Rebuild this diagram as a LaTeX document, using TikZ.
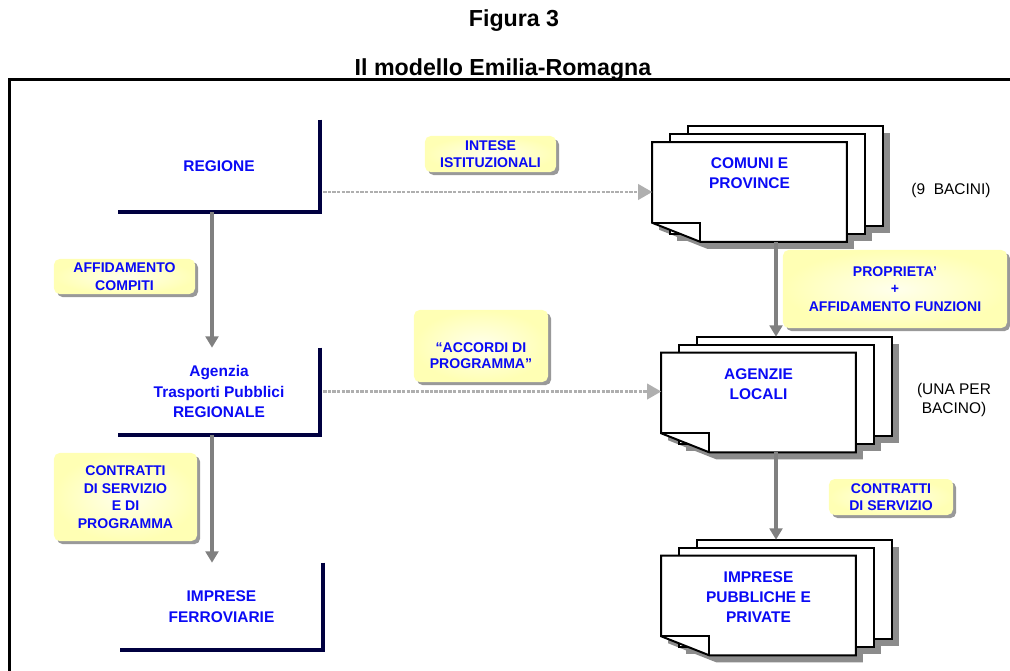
\documentclass[tikz,border=0pt]{standalone}
\usepackage{fontspec}
\setmainfont{Liberation Sans}
\usepackage[dvipsnames]{xcolor}
\usepackage{tikz}
\usetikzlibrary{arrows.meta,calc,positioning,shadows}

\definecolor{txtblue}{RGB}{10,10,245}
\definecolor{navyline}{RGB}{0,0,64}
\definecolor{tagyellow}{RGB}{255,255,180}
\definecolor{arrgray}{RGB}{128,128,128}
\definecolor{dotgray}{RGB}{175,175,175}
\definecolor{pshadow}{RGB}{140,140,140}

\tikzset{
  boxtext/.style={font=\fontsize{11}{14.5}\selectfont\bfseries, text=txtblue, align=center},
  rbox/.style={boxtext, minimum width=5.05cm, inner sep=0pt},
  boxedge/.style={draw=navyline, line width=2.6pt},
  tagbox/.style={rounded corners=4pt, inner color=tagyellow!25!white, outer color=tagyellow,
    align=center, font=\fontsize{10}{12.5}\selectfont\bfseries, text=txtblue, inner sep=0pt,
    drop shadow={shadow xshift=2.2pt, shadow yshift=-2.2pt, fill=gray!80, opacity=1}},
  pagebox/.style={minimum width=4.85cm, minimum height=2.475cm, inner sep=0pt},
  pageline/.style={draw=black, line width=1.4pt, fill=white, line join=miter},
  garrow/.style={draw=arrgray, line width=2.4pt, -{Triangle[length=8pt,width=9pt]}},
  darrow/.style={draw=dotgray, line width=1.7pt, dash pattern=on 2.4pt off 0.9pt,
    -{Triangle[length=10pt,width=11pt]}},
  note/.style={font=\fontsize{11}{14}\selectfont, align=center}
}

\begin{document}
\begin{tikzpicture}[x=0.025cm, y=-0.025cm]
  \useasboundingbox (0,0) rectangle (1010,670);
  % titles
  \node[font=\fontsize{16.5}{19}\selectfont\bfseries, anchor=base] (fig) at (514,27) {Figura 3};
  \node[font=\fontsize{16.5}{19}\selectfont\bfseries, anchor=base] (ttl) at (503,76) {Il modello Emilia-Romagna};
  % frame
  \draw[line width=2.5pt] (9.5,700) -- (9.5,79.5) -- (1030,79.5);

  % left column
  \node[rbox, minimum height=2.3cm] (reg) at (219,166) {REGIONE};
  \node[rbox, minimum height=2.175cm] (atp) at (219,391.5) {Agenzia\\Trasporti Pubblici\\REGIONALE};
  \node[rbox, minimum height=2.175cm] (imf) at (221.5,606.5) {IMPRESE\\FERROVIARIE};
  \foreach \b in {reg,atp,imf}
    \draw[boxedge] (\b.north east) -- (\b.south east) -- (\b.south west);

  % right column: stacks of pages
  \foreach \n/\x/\y in {com/749.5/192, agl/758.5/402.5, imp/758.5/605.5}{
    \path (\x,\y) node[pagebox] (\n) {}
          ++(18,-8) node[pagebox] (\n2) {}
          ++(18,-8) node[pagebox] (\n3) {};
    % shadows
    \fill[pshadow] ([shift={(7,7)}]\n3.north west) rectangle ([shift={(7,7)}]\n3.south east);
    \fill[pshadow] ([shift={(7,7)}]\n2.north west) rectangle ([shift={(7,7)}]\n2.south east);
    \fill[pshadow] ([shift={(7,7)}]\n.north west) -- ([shift={(7,7)}]\n.north east)
      -- ([shift={(7,7)}]\n.south east) -- ([xshift=1.2cm+5pt,yshift=-5pt]\n.south west)
      -- ([xshift=5pt,yshift=0.475cm-5pt]\n.south west) -- cycle;
    % pages
    \draw[pageline] (\n3.north west) rectangle (\n3.south east);
    \draw[pageline] (\n2.north west) rectangle (\n2.south east);
    \draw[pageline] (\n.north west) -- (\n.north east) -- (\n.south east)
      -- ([xshift=1.2cm]\n.south west) -- ([yshift=0.475cm]\n.south west) -- cycle;
    \draw[pageline, fill=none] ([yshift=0.475cm]\n.south west) -- ([xshift=1.2cm,yshift=0.475cm]\n.south west)
      -- ([xshift=1.2cm]\n.south west);
  }
  \node[boxtext] (comt) at ([yshift=0.475cm]com) {COMUNI E\\PROVINCE};
  \node[boxtext] (aglt) at ([yshift=0.46cm]agl) {AGENZIE\\LOCALI};
  \node[boxtext] (impt) at ([yshift=0.21cm]imp) {IMPRESE\\PUBBLICHE E\\PRIVATE};
  \node[note] (bac) at (951,190) {(9~~BACINI)};
  \node[note] (upb) at (954,400) {(UNA PER\\BACINO)};

  % connectors
  \draw[garrow] (reg.south -| 212,0) -- (atp.north -| 212,0);
  \draw[garrow] (atp.south -| 212,0) -- (imf.north -| 212,0);
  \draw[garrow] (com.south -| 776,0) -- (agl3.north -| 776,0);
  \draw[garrow] (agl.south -| 776,0) -- (imp3.north -| 776,0);
  \draw[darrow] ([xshift=2pt]reg.east |- com.west) -- (com.west);
  \draw[darrow] ([xshift=2pt]atp.east) -- (agl.west |- atp.east);

  % labels
  \node[tagbox, minimum width=3.525cm, minimum height=0.875cm] (aff) at (124.5,276.5) {AFFIDAMENTO\\COMPITI};
  \node[tagbox, minimum width=3.575cm, minimum height=2.2cm] (ctr) at (125.5,497) {CONTRATTI\\DI SERVIZIO\\E DI\\PROGRAMMA};
  \node[tagbox, minimum width=3.275cm, minimum height=0.9cm] (int) at (490.5,154) {INTESE\\ISTITUZIONALI};
  \node[tagbox, minimum width=3.35cm, minimum height=1.8cm] (acc) at (481,346) {};
  \node[boxtext, font=\fontsize{10}{11}\selectfont\bfseries] (acct) at ([yshift=-0.24cm]acc) {“ACCORDI DI\\PROGRAMMA”};
  \node[tagbox, minimum width=5.6cm, minimum height=1.95cm] (prop) at (895,289) {PROPRIETA’\\+\\AFFIDAMENTO FUNZIONI};
  \node[tagbox, minimum width=3.1cm, minimum height=0.9cm] (cds) at (891,497) {CONTRATTI\\DI SERVIZIO};
\end{tikzpicture}
\end{document}
